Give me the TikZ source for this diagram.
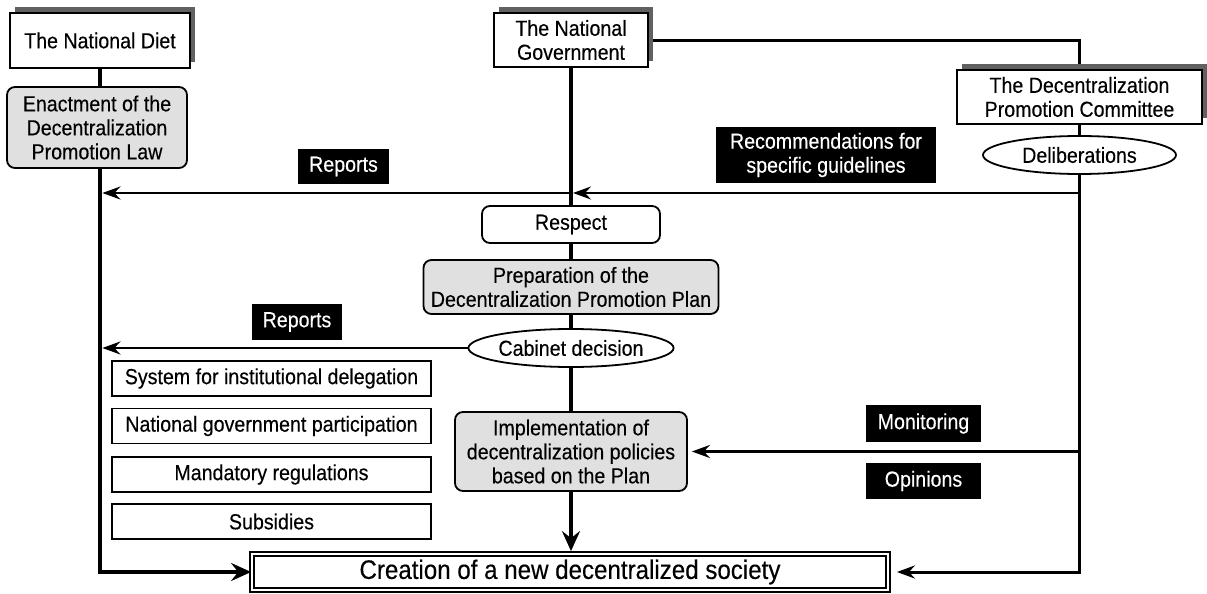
\documentclass[tikz,border=0pt]{standalone}
\usepackage{fontspec}
\setmainfont{Liberation Sans}[FakeStretch=0.9,FakeBold=0.3]
\usetikzlibrary{arrows.meta,shapes.geometric,shadows,backgrounds}
\begin{document}
\begin{tikzpicture}[x=0.5pt,y=-0.5pt,
  every node/.style={font=\fontsize{10.9}{12}\selectfont, inner sep=0pt, align=center},
  sz/.style 2 args={minimum width=#1pt, minimum height=#2pt},
  sbox/.style={draw, rectangle, line width=0.9pt, fill=white},
  shadowed/.style={general shadow={fill=black!62, shadow xshift=2.5pt, shadow yshift=3pt}},
  rbox/.style={draw, rectangle, rounded corners=4pt, line width=0.9pt, fill=black!12},
  wrbox/.style={draw, rectangle, rounded corners=4pt, line width=0.9pt, fill=white},
  ell/.style={draw, ellipse, line width=0.9pt, fill=white},
  blk/.style={fill=black, text=white, rectangle},
  lst/.style={sbox, sz={159.5}{17.5}},
  thk/.style={line width=2.3pt},
  gl/.style={line width=1.8pt},
  cl/.style={line width=1.5pt},
  rl/.style={line width=1.3pt},
  arr/.style={-{Stealth[length=9pt,width=6.5pt,inset=3pt]}},
  bigarr/.style={-{Stealth[length=10pt,width=9pt,inset=3.5pt]}}
]
\useasboundingbox (0,0) rectangle (1207,594);

\node[sbox,shadowed,sz={90}{27.5}] (diet) at (100,40.5) {The National Diet};
\node[sbox,shadowed,sz={77}{27}] (gov) at (571,40) {The National\\Government};
\node[sbox,shadowed,sz={122.5}{27}] (comm) at (1079.5,97) {The Decentralization\\Promotion Committee};
\node[rbox,sz={90}{40.5}] (enact) at (97,127.5) {Enactment of the\\Decentralization\\Promotion Law};
\node[ell,sz={96.5}{19}] (delib) at (1079.5,155) {Deliberations};
\node[blk,sz={45.5}{17.5}] (rep1) at (343.5,166.5) {Reports};
\node[blk,sz={110}{28}] (recom) at (826,155) {Recommendations for\\specific guidelines};
\node[wrbox,sz={89}{18.5}] (respect) at (571,224.5) {Respect};
\node[rbox,sz={147.5}{27}] (prep) at (571,287) {Preparation of the\\Decentralization Promotion Plan};
\node[ell,sz={94.5}{19}] (cab) at (571,348) {Cabinet decision};
\node[blk,sz={45}{18}] (rep2) at (297,322) {Reports};
\node[lst] (l1) at (271.5,378.5) {System for institutional delegation};
\node[lst] (l2) at (271.5,426) {National government participation};
\node[lst] (l3) at (271.5,474.5) {Mandatory regulations};
\node[lst] (l4) at (271.5,521.5) {Subsidies};
\node[rbox,sz={116}{39.5}] (impl) at (571,451.5) {Implementation of\\decentralization policies\\based on the Plan};
\node[blk,sz={57.5}{18.5}] (mon) at (923.5,423.5) {Monitoring};
\node[blk,sz={57.5}{18}] (opi) at (923.5,481) {Opinions};
\node[draw, double, double distance=1.1pt, line width=0.9pt, fill=white, sz={318}{18},
      font=\fontsize{13.4}{15}\selectfont] (soc) at (570,572) {Creation of a new decentralized society};

\coordinate (yr) at (0,193);

\begin{scope}[on background layer]
\fill[white] (0,0) rectangle (1207,594);
\draw[thk] (diet.south) -- (diet.south |- enact.north);
\draw[thk,bigarr] (diet.south |- enact.south) -- (diet.south |- soc.west) -- (soc.west);
\draw[gl] (gov.south) -- (respect.north);
\draw[gl] (respect.south) -- (prep.north);
\draw[gl] (prep.south) -- (cab.north);
\draw[gl] (cab.south) -- (impl.north);
\draw[gl,bigarr,shorten >=1pt] (impl.south) -- (impl.south |- soc.north);
\draw[cl] (gov.east) -| (comm.north);
\draw[cl] (comm.south) -- (delib.north);
\draw[cl,arr,shorten >=4pt] (delib.south) -- (comm.south |- soc.east) -- (soc.east);
\draw[rl,arr,shorten >=1pt] (comm.south |- yr) -- (gov.south |- yr);
\draw[rl,arr,shorten >=1.2pt] (gov.south |- yr) -- (diet.south |- yr);
\draw[rl,arr,shorten >=1.2pt] (cab.west) -- (diet.south |- cab.west);
\draw[rl,arr,shorten >=2pt] (comm.south |- impl.east) -- (impl.east);
\end{scope}
\end{tikzpicture}
\end{document}
